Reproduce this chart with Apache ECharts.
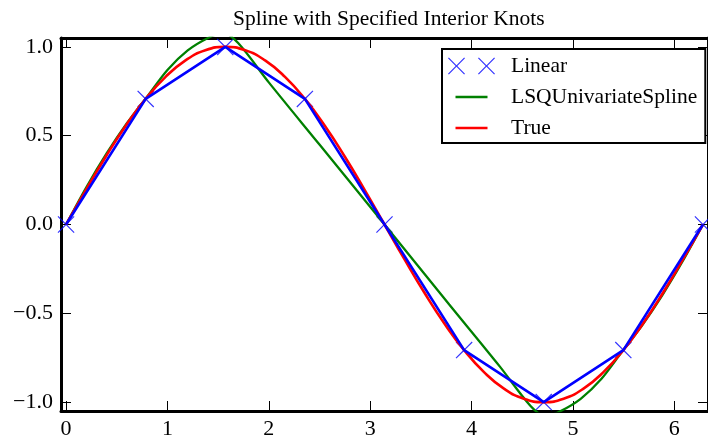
<!DOCTYPE html>
<html>
<head>
<meta charset="utf-8">
<script src="https://cdn.jsdelivr.net/npm/echarts@6/dist/echarts.min.js"></script>
<style>
  html, body { margin: 0; padding: 0; background: #fff; }
  #chart { width: 708px; height: 440px; }
</style>
</head>
<body>
<div id="chart"></div>
<script>
// Sample points of the piecewise-linear interpolant
const linearX = [0, 0.7854, 1.5708, 2.3562, 3.1416, 3.9270, 4.7124, 5.4978, 6.2832];
const linearY = [0, 0.707, 1.0, 0.707, 0, -0.707, -1.0, -0.707, 0];

// Least-squares spline with interior knots
const splineX = [0, 0.2, 0.4, 0.6, 0.8, 1.0, 1.2, 1.4, 1.55, 1.7, 2.0, 2.5, 3.1416,
                 3.78, 4.28, 4.58, 4.73, 4.88, 5.08, 5.28, 5.48, 5.68, 5.88, 6.08, 6.2832];
const splineY = [0, 0.21, 0.40, 0.57, 0.72, 0.87, 0.98, 1.05, 1.08, 1.02, 0.80, 0.45, 0,
                 -0.45, -0.80, -1.02, -1.08, -1.05, -0.98, -0.87, -0.72, -0.57, -0.40, -0.21, 0];

// The underlying function
const trueX = [0, 0.1963, 0.3927, 0.5890, 0.7854, 0.9817, 1.1781, 1.3744, 1.5708, 1.7671,
               1.9635, 2.1598, 2.3562, 2.5525, 2.7489, 2.9452, 3.1416, 3.3379, 3.5343, 3.7306,
               3.9270, 4.1233, 4.3197, 4.5160, 4.7124, 4.9087, 5.1051, 5.3014, 5.4978, 5.6941,
               5.8905, 6.0868, 6.2832];
const trueY = [0, 0.195, 0.383, 0.556, 0.707, 0.831, 0.924, 0.981, 1.0, 0.981,
               0.924, 0.831, 0.707, 0.556, 0.383, 0.195, 0, -0.195, -0.383, -0.556,
               -0.707, -0.831, -0.924, -0.981, -1.0, -0.981, -0.924, -0.831, -0.707, -0.556,
               -0.383, -0.195, 0];

const seriesNames = ['Linear', 'LSQUnivariateSpline', 'True'];
const xTickValues = [0, 1, 2, 3, 4, 5, 6];
const xTickLabels = ['0', '1', '2', '3', '4', '5', '6'];
const yTickValues = [-1, -0.5, 0, 0.5, 1];
const yTickLabels = ['\u22121.0', '\u22120.5', '0.0', '0.5', '1.0'];

const zip = (xs, ys) => xs.map((x, i) => [x, ys[i]]);
const lookup = (vals, labels) => v => {
  const i = vals.findIndex(t => Math.abs(t - v) < 1e-6);
  return i < 0 ? '' : labels[i];
};

// Thin "x" marker, 17 x 17
const crossPath = 'path://M0,0.85L0.85,0L8.5,7.65L16.15,0L17,0.85L9.35,8.5L17,16.15L16.15,17L8.5,9.35L0.85,17L0,16.15L7.65,8.5Z';
// Legend icons share a 58 x 17 box; tiny corner specks pin the box size
const pin = 'M0,0L0.01,0L0,0.01Z M58,16.99L58,17L57.99,17Z';
const twoCrossIcon = 'path://' + pin +
  ' M0,0.85L0.85,0L8.5,7.65L16.15,0L17,0.85L9.35,8.5L17,16.15L16.15,17L8.5,9.35L0.85,17L0,16.15L7.65,8.5Z' +
  ' M30,0.85L30.85,0L38.5,7.65L46.15,0L47,0.85L39.35,8.5L47,16.15L46.15,17L38.5,9.35L30.85,17L30,16.15L37.65,8.5Z';
const lineIcon = 'path://' + pin + ' M7.5,7.25L39.5,7.25L39.5,9.75L7.5,9.75Z';

const FONT = 'Liberation Serif';
const X_MIN = -0.05, X_MAX = 6.333, Y_MIN = -1.05, Y_MAX = 1.05;

const spine = { show: true, onZero: false, lineStyle: { color: '#000', width: 3 } };
const tick = { show: true, inside: true, length: 10, lineStyle: { color: '#000', width: 1 } };

const chart = echarts.init(document.getElementById('chart'), null, { renderer: 'canvas' });
chart.setOption({
  animation: false,
  backgroundColor: '#fff',
  title: {
    text: 'Spline with Specified Interior Knots',
    left: 228, top: 3,
    textStyle: { fontFamily: FONT, fontSize: 21.5, fontWeight: 'normal', color: '#000' }
  },
  grid: { left: 61, right: -6, top: 38, bottom: 28, containLabel: false },
  xAxis: [
    {
      type: 'value', min: X_MIN, max: X_MAX, position: 'bottom',
      axisLine: spine, axisTick: tick, splitLine: { show: false },
      axisLabel: {
        margin: 7, showMinLabel: false, showMaxLabel: false,
        fontFamily: FONT, fontSize: 22, color: '#000',
        formatter: lookup(xTickValues, xTickLabels)
      }
    },
    {
      type: 'value', min: X_MIN, max: X_MAX, position: 'top',
      axisLine: spine, axisTick: tick, splitLine: { show: false },
      axisLabel: { show: false }
    }
  ],
  yAxis: [
    {
      type: 'value', min: Y_MIN, max: Y_MAX, position: 'left',
      axisLine: spine, axisTick: tick, splitLine: { show: false },
      axisLabel: {
        margin: 8, showMinLabel: false, showMaxLabel: false,
        fontFamily: FONT, fontSize: 22, color: '#000',
        formatter: lookup(yTickValues, yTickLabels)
      }
    },
    {
      type: 'value', min: Y_MIN, max: Y_MAX, position: 'right',
      axisLine: spine, axisTick: tick, splitLine: { show: false },
      axisLabel: { show: false }
    }
  ],
  legend: {
    orient: 'vertical',
    left: 442, top: 49,
    padding: [6, 8, 4, 6],
    itemWidth: 58, itemHeight: 17, itemGap: 9,
    backgroundColor: '#fff', borderColor: '#000', borderWidth: 2, borderRadius: 0,
    selectedMode: false,
    itemStyle: { borderWidth: 0 },
    textStyle: { fontFamily: FONT, fontSize: 21.5, lineHeight: 21.5, color: '#000' },
    data: [
      { name: seriesNames[0], icon: twoCrossIcon },
      { name: seriesNames[1], icon: lineIcon },
      { name: seriesNames[2], icon: lineIcon }
    ]
  },
  series: [
    {
      name: seriesNames[0], type: 'scatter',
      data: zip(linearX, linearY),
      symbol: crossPath, symbolSize: 17,
      itemStyle: { color: '#0000ff' },
      emphasis: { disabled: true }
    },
    {
      name: seriesNames[1], type: 'line',
      data: zip(splineX, splineY),
      smooth: 0.3, showSymbol: false, symbol: 'none',
      lineStyle: { color: '#008000', width: 2.3 },
      itemStyle: { color: '#008000' },
      emphasis: { disabled: true }
    },
    {
      name: seriesNames[2], type: 'line',
      data: zip(trueX, trueY),
      smooth: true, showSymbol: false, symbol: 'none',
      lineStyle: { color: '#ff0000', width: 2.6 },
      itemStyle: { color: '#ff0000' },
      emphasis: { disabled: true }
    },
    {
      name: 'linear-path', type: 'line',
      data: zip(linearX, linearY),
      showSymbol: false, symbol: 'none',
      lineStyle: { color: '#0000ff', width: 2.6 },
      itemStyle: { color: '#0000ff' },
      emphasis: { disabled: true }
    }
  ]
});
</script>
</body>
</html>
